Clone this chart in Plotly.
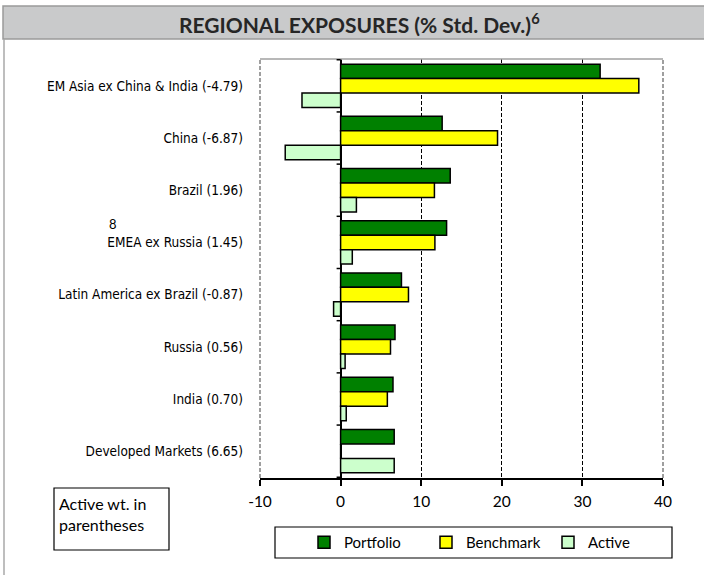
import plotly.graph_objects as go

categories = [
    "EM Asia ex China & India (-4.79)",
    "China (-6.87)",
    "Brazil (1.96)",
    "EMEA ex Russia (1.45)",
    "Latin America ex Brazil (-0.87)",
    "Russia (0.56)",
    "India (0.70)",
    "Developed Markets (6.65)",
]
portfolio = [32.2, 12.6, 13.6, 13.15, 7.55, 6.75, 6.5, 6.65]
benchmark = [37.0, 19.47, 11.64, 11.7, 8.42, 6.19, 5.8, 0.0]
active = [-4.79, -6.87, 1.96, 1.45, -0.87, 0.56, 0.70, 6.65]
series_names = ["Portfolio", "Benchmark", "Active"]
series_colors = ["#008000", "#FFFF00", "#CCFFCC"]
x_ticks = [-10, 0, 10, 20, 30, 40]
grid_vals = [10, 20, 30]

W, H = 704, 575
L, R, T, B = 260, 41, 59, 97
PW, PH = W - L - R, H - T - B


def px(xp):
    return (xp - L) / PW


def py(yp):
    return (H - B - yp) / PH


label_font = "DejaVu Sans Condensed, Liberation Sans Narrow, Lato, sans-serif"
body_font = "Lato, Open Sans, sans-serif"

fig = go.Figure()
for name, vals, col in zip(series_names, [portfolio, benchmark, active], series_colors):
    fig.add_trace(go.Bar(
        y=categories, x=vals, name=name, orientation="h",
        marker=dict(color=col, line=dict(color="black", width=1.5)),
    ))

shapes = []
# title bar
shapes.append(dict(type="rect", xref="paper", yref="paper",
                   x0=px(3), x1=px(708), y0=py(39), y1=py(6),
                   fillcolor="#C9CACB", line=dict(color="#9A9A9A", width=1.5), layer="below"))
# outer left border
shapes.append(dict(type="line", xref="paper", yref="paper",
                   x0=px(4), x1=px(4), y0=py(39), y1=py(580),
                   line=dict(color="#A8A8A8", width=1.5)))
# plot borders
shapes.append(dict(type="line", xref="paper", yref="paper", x0=0, x1=1, y0=1, y1=1,
                   line=dict(color="#A0A0A0", width=1.5)))
for xx in [0, 1]:
    shapes.append(dict(type="line", xref="paper", yref="paper", x0=xx, x1=xx, y0=0, y1=1,
                       line=dict(color="#808080", width=1.5, dash="4px,2px")))
# category tick marks on zero line
for i in range(len(categories) + 1):
    shapes.append(dict(type="line", xref="x", yref="y", xsizemode="pixel", xanchor=0,
                       x0=-4, x1=0, y0=i - 0.5, y1=i - 0.5,
                       line=dict(color="black", width=1.5)))
# legend box
shapes.append(dict(type="rect", xref="paper", yref="paper",
                   x0=px(275), x1=px(672), y0=py(558), y1=py(527),
                   line=dict(color="black", width=1.2), fillcolor="rgba(0,0,0,0)"))
# note box
shapes.append(dict(type="rect", xref="paper", yref="paper",
                   x0=px(54), x1=px(169), y0=py(550), y1=py(488),
                   line=dict(color="black", width=1.2), fillcolor="rgba(0,0,0,0)"))

annotations = [
    dict(text="<b>REGIONAL EXPOSURES (% Std. Dev.)<sup>6</sup></b>", xref="paper", yref="paper",
         x=px(359), y=py(22.5), xanchor="center", yanchor="middle", showarrow=False,
         font=dict(family=body_font, size=21, color="#262626")),
    dict(text="Active wt. in<br>parentheses", xref="paper", yref="paper",
         x=px(57), y=py(514), xanchor="left", yanchor="middle", align="left", showarrow=False,
         font=dict(family=body_font, size=16, color="black")),
    dict(text="8", xref="paper", yref="paper", x=px(113), y=py(224),
         xanchor="center", yanchor="middle", showarrow=False,
         font=dict(family=body_font, size=13, color="black")),
]

fig.update_layout(
    width=W, height=H,
    margin=dict(l=L, r=R, t=T, b=B, autoexpand=False),
    paper_bgcolor="white", plot_bgcolor="white",
    barmode="group", bargap=0.17, bargroupgap=0,
    showlegend=True,
    legend=dict(orientation="h", x=px(304), y=py(542.5), xanchor="left", yanchor="middle",
                bgcolor="rgba(0,0,0,0)", borderwidth=0, traceorder="normal",
                font=dict(family=body_font, size=15, color="black"),
                itemwidth=30, entrywidthmode="pixels", entrywidth=77),
    xaxis=dict(range=[-10, 40], tickvals=x_ticks, ticktext=[str(v) for v in x_ticks],
               showgrid=False, zeroline=True, zerolinecolor="black", zerolinewidth=1.5,
               showline=True, linecolor="black", linewidth=1.5,
               ticks="outside", ticklen=6, tickcolor="black", tickwidth=1.5,
               ticklabelstandoff=3,
               tickfont=dict(family=body_font, size=15.5, color="black"),
               minor=dict(tickvals=grid_vals, showgrid=True, gridcolor="black",
                          gridwidth=1, griddash="4px,2px", ticks=""),
               fixedrange=True),
    yaxis=dict(type="category", autorange="reversed", showgrid=False, zeroline=False,
               showline=False, ticks="", ticklabelstandoff=16,
               tickfont=dict(family=label_font, size=13.5, color="black"),
               fixedrange=True),
    shapes=shapes, annotations=annotations,
)

fig.write_html("out.html", config={"displayModeBar": False},
               post_script="document.body.style.margin='0';document.body.style.padding='0';")
